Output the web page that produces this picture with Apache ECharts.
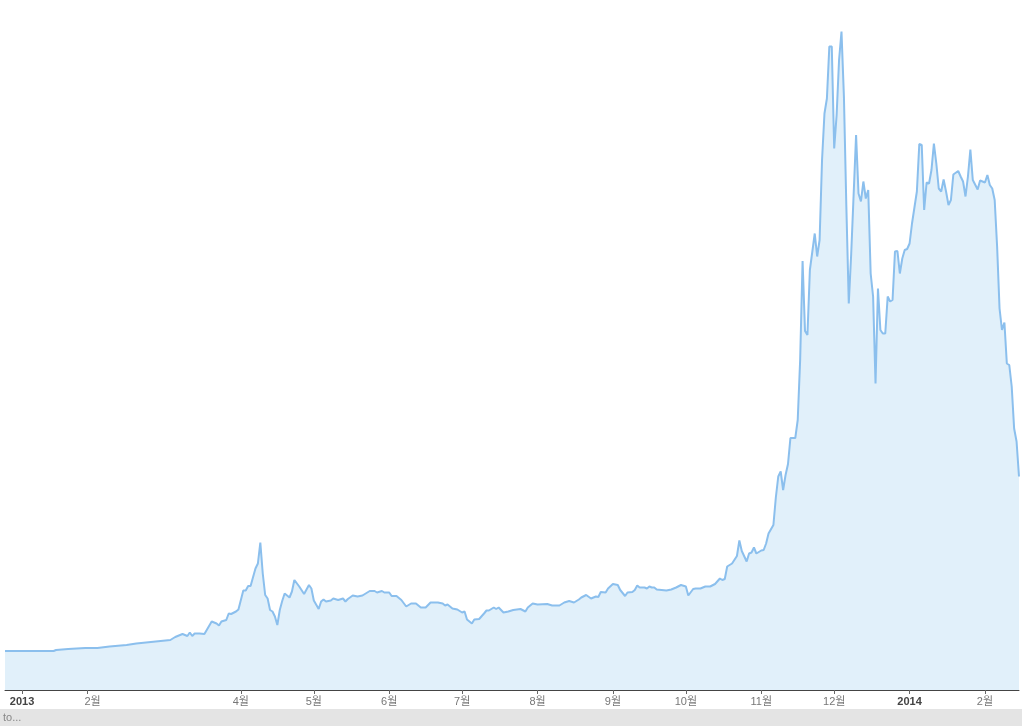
<!DOCTYPE html>
<html>
<head>
<meta charset="utf-8">
<script src="https://cdn.jsdelivr.net/npm/echarts@6/dist/echarts.min.js"></script>
<style>
html,body{margin:0;padding:0;background:#fff;}
#chart{width:1022px;height:726px;}
</style>
</head>
<body>
<div id="chart"></div>
<script>
// Daily price (USD), by date
var dates = [
'2012-12-25','2013-01-14','2013-01-15','2013-01-20','2013-01-27','2013-02-01','2013-02-06','2013-02-13','2013-02-17','2013-02-27',
'2013-03-03','2013-03-05','2013-03-08','2013-03-10','2013-03-11','2013-03-12','2013-03-13','2013-03-15','2013-03-17','2013-03-20',
'2013-03-22','2013-03-23','2013-03-24','2013-03-26','2013-03-27','2013-03-28','2013-03-30','2013-03-31','2013-04-02','2013-04-03',
'2013-04-04','2013-04-05','2013-04-07','2013-04-08','2013-04-09','2013-04-10','2013-04-11','2013-04-12','2013-04-13','2013-04-14',
'2013-04-15','2013-04-16','2013-04-17','2013-04-18','2013-04-19','2013-04-21','2013-04-22','2013-04-23','2013-04-25','2013-04-27',
'2013-04-29','2013-04-30','2013-05-01','2013-05-03','2013-05-04','2013-05-05','2013-05-06','2013-05-08','2013-05-09','2013-05-11',
'2013-05-13','2013-05-14','2013-05-15','2013-05-17','2013-05-19','2013-05-21','2013-05-24','2013-05-26','2013-05-27','2013-05-29',
'2013-05-30','2013-06-01','2013-06-02','2013-06-04','2013-06-06','2013-06-08','2013-06-10','2013-06-12','2013-06-14','2013-06-16',
'2013-06-18','2013-06-21','2013-06-23','2013-06-24','2013-06-25','2013-06-27','2013-06-29','2013-07-01','2013-07-02','2013-07-03',
'2013-07-05','2013-07-06','2013-07-08','2013-07-10','2013-07-11','2013-07-12','2013-07-14','2013-07-15','2013-07-16','2013-07-18',
'2013-07-20','2013-07-22','2013-07-25','2013-07-27','2013-07-28','2013-07-30','2013-08-01','2013-08-05','2013-08-07','2013-08-10',
'2013-08-12','2013-08-14','2013-08-16','2013-08-18','2013-08-19','2013-08-21','2013-08-23','2013-08-25','2013-08-26','2013-08-27',
'2013-08-29','2013-08-30','2013-09-01','2013-09-03','2013-09-04','2013-09-06','2013-09-07','2013-09-09','2013-09-10','2013-09-11',
'2013-09-12','2013-09-14','2013-09-15','2013-09-16','2013-09-17','2013-09-18','2013-09-19','2013-09-21','2013-09-23','2013-09-25',
'2013-09-27','2013-09-29','2013-10-01','2013-10-02','2013-10-04','2013-10-05','2013-10-07','2013-10-09','2013-10-11','2013-10-13',
'2013-10-15','2013-10-16','2013-10-17','2013-10-18','2013-10-20','2013-10-22','2013-10-23','2013-10-24','2013-10-26','2013-10-27',
'2013-10-28','2013-10-29','2013-10-30','2013-11-01','2013-11-02','2013-11-03','2013-11-04','2013-11-06','2013-11-07','2013-11-08',
'2013-11-09','2013-11-10','2013-11-11','2013-11-12','2013-11-13','2013-11-15','2013-11-16','2013-11-17','2013-11-18','2013-11-19',
'2013-11-20','2013-11-21','2013-11-23','2013-11-24','2013-11-25','2013-11-26','2013-11-27','2013-11-28','2013-11-29','2013-11-30',
'2013-12-01','2013-12-02','2013-12-03','2013-12-04','2013-12-05','2013-12-06','2013-12-07','2013-12-08','2013-12-10','2013-12-11',
'2013-12-12','2013-12-13','2013-12-14','2013-12-15','2013-12-16','2013-12-17','2013-12-18','2013-12-19','2013-12-20','2013-12-21',
'2013-12-22','2013-12-23','2013-12-24','2013-12-25','2013-12-26','2013-12-27','2013-12-28','2013-12-29','2013-12-30','2013-12-31',
'2014-01-01','2014-01-02','2014-01-04','2014-01-05','2014-01-06','2014-01-07','2014-01-08','2014-01-09','2014-01-10','2014-01-11',
'2014-01-12','2014-01-13','2014-01-14','2014-01-15','2014-01-16','2014-01-17','2014-01-18','2014-01-19','2014-01-21','2014-01-22',
'2014-01-23','2014-01-24','2014-01-25','2014-01-26','2014-01-27','2014-01-29','2014-01-30','2014-02-01','2014-02-02','2014-02-03',
'2014-02-04','2014-02-05','2014-02-06','2014-02-07','2014-02-08','2014-02-09','2014-02-10','2014-02-11','2014-02-12','2014-02-13',
'2014-02-14','2014-02-15'
];
var prices = [
14,14,16,18,20,20,23,26,29,34,
36,42,48,44,51,44,49,49,48,73,
69,65,73,76,89,88,93,97,135,135,
144,144,179,189,231,169,126,119,96,93,
83,66,96,114,129,121,133,156,143,128,
146,139,115,98,113,117,113,115,119,116,
119,113,118,125,123,125,134,134,131,134,
131,131,124,124,116,103,109,109,101,101,
111,111,109,105,107,99,97,91,93,77,
69,77,78,89,95,95,101,98,101,91,
93,96,98,93,101,109,107,108,105,105,
111,114,111,117,121,126,119,123,122,132,
131,139,148,146,136,124,131,132,136,145,
141,141,139,143,141,141,137,136,135,137,
141,146,143,125,138,139,139,143,143,148,
159,156,158,183,189,204,235,214,193,209,
211,221,209,215,216,229,249,266,321,363,
373,336,366,388,440,440,476,596,794,654,
646,776,849,803,836,996,1089,1119,1223,1223,
1019,1086,1196,1253,1123,903,709,809,1046,929,
913,953,919,936,769,723,549,739,656,649,
649,723,713,716,813,814,769,799,816,818,
829,869,933,1028,1026,896,951,949,976,1029,
989,939,933,957,933,906,916,967,974,963,
953,923,963,1017,956,937,955,951,966,946,
939,916,823,699,656,671,589,586,543,459,
433,363
];
// Axis ticks and labels
var tickDates  = ['2013-01-01','2013-01-28','2013-04-01','2013-05-01','2013-06-01','2013-07-01','2013-08-01','2013-09-01','2013-10-01','2013-11-01','2013-12-01','2014-01-01','2014-02-01'];
var labelDates = ['2013-01-01','2013-01-30','2013-04-01','2013-05-01','2013-06-01','2013-07-01','2013-08-01','2013-09-01','2013-10-01','2013-11-01','2013-12-01','2014-01-01','2014-02-01'];
var labelTexts = ['2013','2월','4월','5월','6월','7월','8월','9월','10월','11월','12월','2014','2월'];
var labelIsYear = [true,false,false,false,false,false,false,false,false,false,false,true,false];

function ts(s){var p=s.split('-');return Date.UTC(+p[0],+p[1]-1,+p[2]);}
var labelMap = {};
labelDates.forEach(function(d,i){labelMap[ts(d)] = labelIsYear[i] ? '{yr|'+labelTexts[i]+'}' : '{mo|'+labelTexts[i]+'}';});

var seriesData = dates.map(function(d,i){return [ts(d), prices[i]];});

var chart = echarts.init(document.getElementById('chart'), null, {renderer:'canvas'});
chart.setOption({
  animation:false,
  backgroundColor:'#ffffff',
  grid:{left:5,right:3,top:20,bottom:36},
  xAxis:{
    type:'value',
    min:ts('2012-12-25'),
    max:ts('2014-02-15'),
    axisLine:{show:true,onZero:false,lineStyle:{color:'#444',width:1}},
    axisTick:{show:true,length:4,lineStyle:{color:'#666'},customValues:tickDates.map(ts)},
    splitLine:{show:false},
    axisLabel:{
      customValues:labelDates.map(ts),
      margin:6,
      hideOverlap:false,
      formatter:function(v){return labelMap[v] || '';},
      rich:{
        yr:{fontFamily:'Liberation Sans, Arial, sans-serif',fontSize:11,fontWeight:'bold',color:'#444'},
        mo:{fontFamily:'Liberation Sans, Noto Sans CJK KR, sans-serif',fontSize:11,color:'#777'}
      }
    }
  },
  yAxis:{type:'value',min:-64,max:1276,show:false,splitLine:{show:false}},
  series:[{
    type:'line',
    data:seriesData,
    symbol:'none',
    lineStyle:{color:'#8bbfed',width:2},
    areaStyle:{color:'#e1f0fa',opacity:1,origin:'start'},
    z:2
  }],
  graphic:[
    {type:'rect',left:0,top:709,shape:{width:1022,height:17},style:{fill:'#e4e4e4'},silent:true},
    {type:'text',left:3,top:712,style:{text:'to...',fill:'#888',font:'11px Liberation Sans, Arial, sans-serif'},silent:true}
  ]
});
</script>
</body>
</html>
